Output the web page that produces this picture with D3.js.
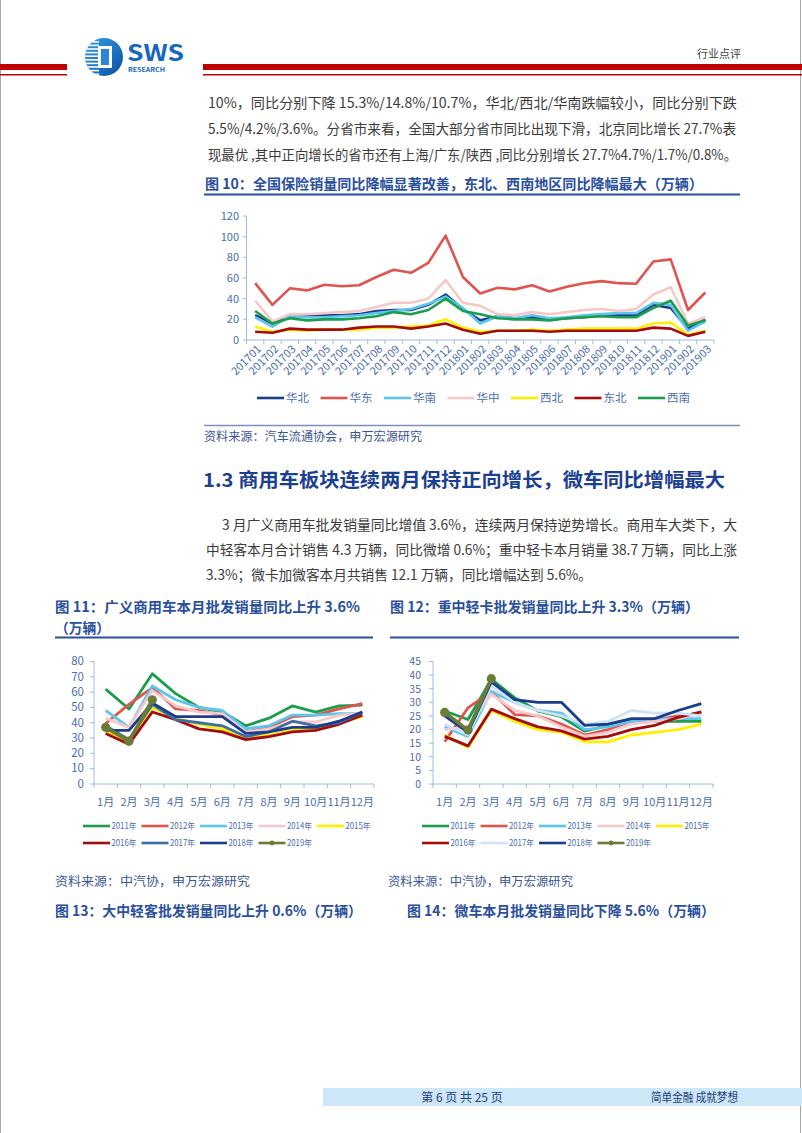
<!DOCTYPE html>
<html><head><meta charset="utf-8">
<script src="https://cdn.jsdelivr.net/npm/d3@7"></script>
<style>
body{margin:0;background:#fff}
svg{display:block}
text{font-family:"Noto Sans CJK SC","Noto Sans",sans-serif}
</style>
</head><body>
<svg id="page" width="802" height="1133"></svg>
<script>
// ---------- Figure 10 data ----------
const months10 = ['201701','201702','201703','201704','201705','201706','201707','201708','201709','201710','201711','201712','201801','201802','201803','201804','201805','201806','201807','201808','201809','201810','201811','201812','201901','201902','201903'];
const huabei   = [24,16,22,23,24,24,25,28,29,29,34,44,30,19,23,21,22,20,21,22,24,24,24,34,31,11,20];
const huadong  = [55,34,50,48,53.5,52,53,61,68,65,74.6,101,61,45,50.6,49,53,47,51.6,55,57,55,54.5,76,78,29,46];
const huanan   = [22,13,23,22,22,23,24,26,28,30,35,42,31,16,23,21,24,21,22,24,25,26,26,36,34,9,18];
const huazhong = [38,18,25,25,26,27,28,32,36,36,40,58,36,33,25,24,27,25,27,29,30,28,30,44,51,16,22];
const xibei    = [13,8,10,9,10,10,10,12,12,13,14,20,12,8,9,9,10,9,10,11,11,11,11,16,17,5,9];
const dongbei  = [8,7,11,10,10,10,12,13,13,11,13,16,10,6,9,9,9,8,9,9,9,9,9,12,11,4,8];
const xinan    = [28,16,21,19,20,20,21,23,27,25,29,40,28,25,21,20,20,19,21,22,23,22,22,31,38,14,19];
const regions10 = ['华北','华东','华南','华中','西北','东北','西南'];
const ticks10 = [0,20,40,60,80,100,120];

// ---------- Figure 11 / 12 data ----------
const monthLabels = ['1月','2月','3月','4月','5月','6月','7月','8月','9月','10月','11月','12月'];
const yearLabels = ['2011年','2012年','2013年','2014年','2015年','2016年','2017年','2018年','2019年'];
const c11_2011 = [62,49,72,59,50,47,38,43,51,47,51,51.5];
const c11_2012 = [39.5,52,63,49,48,45,34,37,44,45,49,52.5];
const c11_2013 = [48,37,64,55,50,48,36,38,45,45,46,46];
const c11_2014 = [43,37,61,51,47,46,34,36,40.5,40.5,45,46];
const c11_2015 = [35,27,50,43,39,36,30,32,35,36,40,44];
const c11_2016 = [33,26,47,42,36,34,29,31,34,35,39,45];
const c11_2017 = [38,29,52,42,40,38,31,34,41,38,40,47];
const c11_2018 = [35,35,53,44,44,44,33,34,37,37,41,47];
const c11_2019 = [37,28,55];
const ticks11 = [0,10,20,30,40,50,60,70,80];

const c12_2011 = [26.8,23.7,38.5,31.7,26.8,24.7,19.4,21.5,23.4,23,23,23];
const c12_2012 = [15.5,28,34,25.5,25,22,18,20,23,23.5,25,26];
const c12_2013 = [21,17.5,34,30,27,26,20,21,23,24,24,24];
const c12_2014 = [20,21,33,27,25,21,17.5,19,22,23,24,26];
const c12_2015 = [18,13.5,27,23,20,19,15.5,15.5,18,19,20,22];
const c12_2016 = [17.5,14,27.5,24,21,19.5,16.5,17.5,20,21.5,24.5,26.5];
const c12_2017 = [22,18,36,30,27,25,22,23,27,26,26,25];
const c12_2018 = [25,19,37.5,31,30,30,21.5,22,24,24,27,29.5];
const c12_2019 = [26.3,19.8,38.7];
const ticks12 = [0,5,10,15,20,25,30,35,40,45];

// ---------- styles ----------
const regionColors = ['#1c3c8c','#e0544f','#5cc6ee','#f6c8c8','#ffef00','#a30c0c','#1a9e4e'];
const colors11 = ['#1a9e4e','#e0544f','#5cc6ee','#f6c8c8','#ffef00','#a30c0c','#3d6ea6','#1c3c8c','#6b7c38'];
const colors12 = ['#1a9e4e','#e0544f','#5cc6ee','#f6c8c8','#ffef00','#a30c0c','#cfe3f5','#1c3c8c','#6b7c38'];
const BLUE = '#2a4f9e', TXT = '#3c3c3c', AX = '#4a6db3';

const svg = d3.select('#page');

function txt(x, y, s, o = {}) {
  const t = svg.append('text').attr('x', x).attr('y', y).text(s)
    .attr('font-size', o.size || 14).attr('fill', o.fill || TXT)
    .attr('font-weight', o.weight || 'normal')
    .attr('text-anchor', o.anchor || 'start');
  if (o.len) t.attr('textLength', o.len).attr('lengthAdjust', 'spacingAndGlyphs');
  return t;
}

// ---------- page frame / header ----------
svg.append('line').attr('x1',0.5).attr('x2',0.5).attr('y1',0).attr('y2',1133).attr('stroke','#aaa');
svg.append('line').attr('x1',800.5).attr('x2',800.5).attr('y1',0).attr('y2',1133).attr('stroke','#aaa');
svg.append('rect').attr('x',0).attr('y',64).attr('width',67).attr('height',6).attr('fill','#c00000');
svg.append('rect').attr('x',0).attr('y',74).attr('width',67).attr('height',1.5).attr('fill','#c00000');
svg.append('rect').attr('x',203).attr('y',64).attr('width',599).attr('height',6).attr('fill','#c00000');
svg.append('rect').attr('x',203).attr('y',74).attr('width',599).attr('height',1.5).attr('fill','#c00000');

// logo
const defs = svg.append('defs');
const g1 = defs.append('linearGradient').attr('id','lg').attr('x1','0').attr('x2','1').attr('y1','0').attr('y2','1');
g1.append('stop').attr('offset','0').attr('stop-color','#35a0e8');
g1.append('stop').attr('offset','1').attr('stop-color','#0b4ea2');
defs.append('clipPath').attr('id','lc').append('circle').attr('cx',104).attr('cy',57).attr('r',19);
svg.append('circle').attr('cx',104).attr('cy',57).attr('r',19).attr('fill','url(#lg)');
const lgG = svg.append('g').attr('clip-path','url(#lc)');
d3.range(41, 76, 3.6).forEach(y => lgG.append('rect').attr('x',84).attr('y',y).attr('width',15).attr('height',1.6).attr('fill','#fff'));
lgG.append('rect').attr('x',98).attr('y',46).attr('width',14).attr('height',22).attr('fill','#fff');
lgG.append('rect').attr('x',101).attr('y',49).attr('width',8).attr('height',16).attr('fill','#2a86d6');
txt(127, 61, 'SWS', {size: 22, weight: 'bold', fill: '#1466c0', len: 57});
txt(128, 72, 'RESEARCH', {size: 6, weight: 'bold', fill: '#1466c0', len: 37});
txt(697, 58, '行业点评', {size: 11, fill: '#444', len: 44});

// ---------- paragraph 1 ----------
txt(208, 108, '10%，同比分别下降  15.3%/14.8%/10.7%，华北/西北/华南跌幅较小，同比分别下跌', {len: 529});
txt(208, 134, '5.5%/4.2%/3.6%。分省市来看，全国大部分省市同比出现下滑，北京同比增长  27.7%表', {len: 528});
txt(208, 160, '现最优 ,其中正向增长的省市还有上海/广东/陕西 ,同比分别增长 27.7%4.7%/1.7%/0.8%。', {len: 529});

txt(205, 189, '图 10：全国保险销量同比降幅显著改善，东北、西南地区同比降幅最大（万辆）', {size: 14, weight: 'bold', fill: BLUE, len: 498});
svg.append('line').attr('x1',204).attr('x2',740).attr('y1',194.5).attr('y2',194.5).attr('stroke','#2a4f9e').attr('stroke-width',2);

// ---------- Figure 10 chart ----------
(function(){
  const x = d3.scaleBand().domain(months10).range([246.5, 714]);
  const y = d3.scaleLinear().domain([0,120]).range([340, 216]);
  const g = svg.append('g');
  g.append('line').attr('x1',246.5).attr('x2',246.5).attr('y1',216).attr('y2',340).attr('stroke','#9dbce6');
  ticks10.forEach(v => {
    g.append('text').attr('x',239).attr('y',y(v)+4).attr('text-anchor','end').attr('font-size',11)
      .attr('font-family','Liberation Sans, Arial, sans-serif').attr('fill',AX).text(v);
    g.append('line').attr('x1',243).attr('x2',246.5).attr('y1',y(v)).attr('y2',y(v)).attr('stroke','#9dbce6');
  });
  g.append('line').attr('x1',246.5).attr('x2',714).attr('y1',340).attr('y2',340).attr('stroke','#9dbce6');
  months10.forEach((m,i) => {
    const x0 = x(m);
    g.append('line').attr('x1',x0).attr('x2',x0).attr('y1',340).attr('y2',344).attr('stroke','#9dbce6');
    const cx = x0 + x.bandwidth()/2;
    g.append('text').attr('transform',`translate(${cx+4},${347}) rotate(-45)`).attr('text-anchor','end')
      .attr('dy','0.35em').attr('font-size',11).attr('font-family','Liberation Sans, Arial, sans-serif')
      .attr('fill',AX).text(m);
  });
  g.append('line').attr('x1',714).attr('x2',714).attr('y1',340).attr('y2',344).attr('stroke','#9dbce6');
  const series = [huabei, huadong, huanan, huazhong, xibei, dongbei, xinan];
  const line = d3.line().x((d,i) => x(months10[i]) + x.bandwidth()/2).y(d => y(d));
  series.forEach((s,k) => {
    g.append('path').attr('d', line(s)).attr('fill','none').attr('stroke',regionColors[k])
      .attr('stroke-width',2.6).attr('stroke-linejoin','round');
  });
  regions10.forEach((r,k) => {
    const lx = 257 + k*63.5;
    g.append('line').attr('x1',lx).attr('x2',lx+27).attr('y1',398).attr('y2',398).attr('stroke',regionColors[k]).attr('stroke-width',2.6);
    g.append('text').attr('x',lx+29).attr('y',402).attr('font-size',11.5).attr('fill',AX).text(r);
  });
})();

svg.append('line').attr('x1',204).attr('x2',740).attr('y1',425.5).attr('y2',425.5).attr('stroke','#7a90c0').attr('stroke-width',1.5);
txt(204, 441, '资料来源：汽车流通协会，申万宏源研究', {size: 12, fill: '#3a5595', len: 218});

// ---------- section 1.3 ----------
txt(203, 487, '1.3  商用车板块连续两月保持正向增长，微车同比增幅最大', {size: 19, weight: 'bold', fill: '#1b3f91', len: 522});
txt(222, 530, '3 月广义商用车批发销量同比增值 3.6%，连续两月保持逆势增长。商用车大类下，大', {len: 515});
txt(206, 555, '中轻客本月合计销售 4.3 万辆，同比微增 0.6%；重中轻卡本月销量 38.7 万辆，同比上涨', {len: 531});
txt(206, 580, '3.3%；微卡加微客本月共销售 12.1 万辆，同比增幅达到 5.6%。', {len: 386});

txt(55, 612, '图  11：广义商用车本月批发销量同比上升  3.6%', {size: 14, weight: 'bold', fill: BLUE, len: 305});
txt(55, 633, '（万辆）', {size: 14, weight: 'bold', fill: BLUE, len: 55});
svg.append('line').attr('x1',55).attr('x2',373).attr('y1',637.5).attr('y2',637.5).attr('stroke','#2a4f9e').attr('stroke-width',2);
txt(390, 612, '图 12：重中轻卡批发销量同比上升 3.3%（万辆）', {size: 14, weight: 'bold', fill: BLUE, len: 309});
svg.append('line').attr('x1',390).attr('x2',739).attr('y1',637.5).attr('y2',637.5).attr('stroke','#2a4f9e').attr('stroke-width',2);

// ---------- monthly charts ----------
function monthChart(x0, x1, yMax, ticks, labelRight, tickFont, series, colors, legendX) {
  const x = d3.scaleBand().domain(monthLabels).range([x0, x1]);
  const y = d3.scaleLinear().domain([0, yMax]).range([784, 661.5]);
  const g = svg.append('g');
  g.append('line').attr('x1',x0).attr('x2',x0).attr('y1',661.5).attr('y2',784).attr('stroke','#9dbce6');
  ticks.forEach(v => {
    g.append('line').attr('x1',x0-4).attr('x2',x0).attr('y1',y(v)).attr('y2',y(v)).attr('stroke','#9dbce6');
    g.append('text').attr('x',labelRight).attr('y',y(v)+3.8).attr('text-anchor','end').attr('font-size',tickFont)
      .attr('font-family','Liberation Sans, Arial, sans-serif').attr('fill',AX).text(v);
  });
  g.append('line').attr('x1',x0).attr('x2',x1).attr('y1',784).attr('y2',784).attr('stroke','#9dbce6');
  monthLabels.forEach((m,i) => {
    g.append('line').attr('x1',x(m)).attr('x2',x(m)).attr('y1',784).attr('y2',788).attr('stroke','#9dbce6');
    g.append('text').attr('x',x(m)+x.bandwidth()/2).attr('y',806).attr('text-anchor','middle')
      .attr('font-size',11).attr('fill',AX).text(m);
  });
  g.append('line').attr('x1',x1).attr('x2',x1).attr('y1',784).attr('y2',788).attr('stroke','#9dbce6');
  const line = d3.line().x((d,i) => x(monthLabels[i]) + x.bandwidth()/2).y(d => y(d));
  series.forEach((s,k) => {
    const last = k === series.length - 1;
    g.append('path').attr('d', line(s)).attr('fill','none').attr('stroke',colors[k])
      .attr('stroke-width', last ? 3.6 : 2.8).attr('stroke-linejoin','round');
    if (last) s.forEach((d,i) => g.append('circle').attr('cx',x(monthLabels[i])+x.bandwidth()/2).attr('cy',y(d)).attr('r',4.6).attr('fill',colors[k]));
  });
  yearLabels.forEach((yl,k) => {
    const row = k < 5 ? 0 : 1;
    const col = k < 5 ? k : k - 5;
    const lx = legendX + col*58.5, ly = row ? 843 : 826;
    g.append('line').attr('x1',lx).attr('x2',lx+27).attr('y1',ly).attr('y2',ly).attr('stroke',colors[k]).attr('stroke-width',2.6);
    if (k === 8) g.append('circle').attr('cx',lx+13.5).attr('cy',ly).attr('r',2.4).attr('fill',colors[k]);
    g.append('text').attr('x',lx+28.5).attr('y',ly+3.3).attr('font-size',8.5).attr('fill',AX)
      .attr('textLength',25).attr('lengthAdjust','spacingAndGlyphs').text(yl);
  });
}
monthChart(94, 374, 80, ticks11, 84, 11.5,
  [c11_2011,c11_2012,c11_2013,c11_2014,c11_2015,c11_2016,c11_2017,c11_2018,c11_2019], colors11, 83);
monthChart(433, 713, 45, ticks12, 421, 10.5,
  [c12_2011,c12_2012,c12_2013,c12_2014,c12_2015,c12_2016,c12_2017,c12_2018,c12_2019], colors12, 422);

txt(55, 886, '资料来源：中汽协，申万宏源研究', {size: 12, fill: '#3a5595', len: 195});
txt(388, 886, '资料来源：中汽协，申万宏源研究', {size: 12, fill: '#3a5595', len: 185});
txt(55, 916, '图 13：大中轻客批发销量同比上升 0.6%（万辆）', {size: 14, weight: 'bold', fill: BLUE, len: 307});
txt(407, 916, '图 14：微车本月批发销量同比下降 5.6%（万辆）', {size: 14, weight: 'bold', fill: BLUE, len: 308});

// ---------- footer ----------
svg.append('rect').attr('x',323).attr('y',1088).attr('width',479).attr('height',18).attr('fill','#cde6f8');
txt(462, 1101.5, '第 6 页  共 25 页', {size: 12, fill: '#1f3f7a', anchor: 'middle'});
txt(651, 1101.5, '简单金融 成就梦想', {size: 12, fill: '#1f3f7a', len: 87});
</script>
</body></html>
